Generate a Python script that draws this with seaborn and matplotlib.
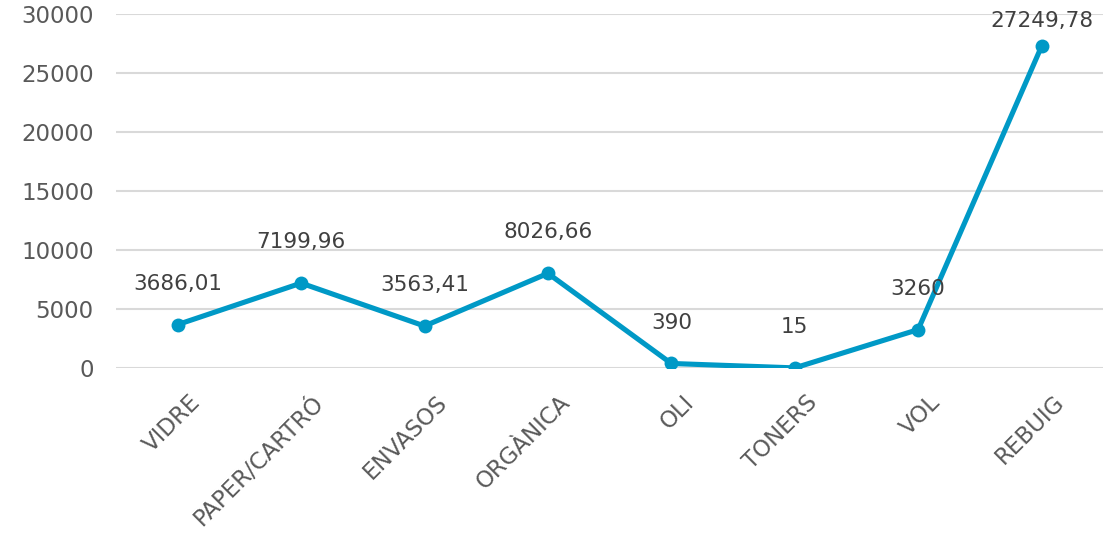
import pandas as pd
import seaborn as sns
import matplotlib.pyplot as plt
from matplotlib.transforms import ScaledTranslation

categories = ["VIDRE", "PAPER/CARTRÓ", "ENVASOS", "ORGÀNICA", "OLI", "TONERS", "VOL", "REBUIG"]
values = [3686.01, 7199.96, 3563.41, 8026.66, 390, 15, 3260, 27249.78]
labels = ["3686,01", "7199,96", "3563,41", "8026,66", "390", "15", "3260", "27249,78"]
yticks = [0, 5000, 10000, 15000, 20000, 25000, 30000]

sns.set_theme(style="white")
plt.rcParams['font.family'] = ['DejaVu Sans']

df = pd.DataFrame({"cat": categories, "val": values})

fig = plt.figure(figsize=(11.2, 5.35), dpi=100)
ax = fig.add_axes([0.1036, 0.312, 0.8814, 0.6618])
blue = "#0099c6"
grey = "#595959"

sns.lineplot(data=df, x="cat", y="val", ax=ax, color=blue, linewidth=3.7,
             marker="o", markersize=10, markeredgewidth=0, sort=False)

# value labels above each point
for i, (v, t) in enumerate(zip(values, labels)):
    off = 18.7 if v > 25000 else 29.5
    ax.annotate(t, (i, v), xytext=(0, off), textcoords="offset points",
                ha="center", va="center", fontsize=15.5, color="#404040")

ax.set_xlim(-0.5, len(categories) - 0.5)
ax.set_ylim(0, 30000)
ax.set_yticks(yticks)
ax.set_yticklabels([str(t) for t in yticks])
ax.grid(axis="y", color="#d9d9d9", linewidth=1.5)
ax.set_axisbelow(True)
for s in ax.spines.values():
    s.set_visible(False)
ax.set_xlabel("")
ax.set_ylabel("")
ax.tick_params(axis="y", labelsize=16.5, labelcolor=grey, length=0, pad=16)
ax.tick_params(axis="x", labelsize=16.5, labelcolor=grey, length=0, pad=22)
shift = ScaledTranslation(0.19, 0, fig.dpi_scale_trans)
for lab in ax.get_xticklabels():
    lab.set_rotation(45)
    lab.set_ha("right")
    lab.set_va("center")
    lab.set_rotation_mode("anchor")
    lab.set_transform(lab.get_transform() + shift)

fig.savefig("out.png", dpi=100)
